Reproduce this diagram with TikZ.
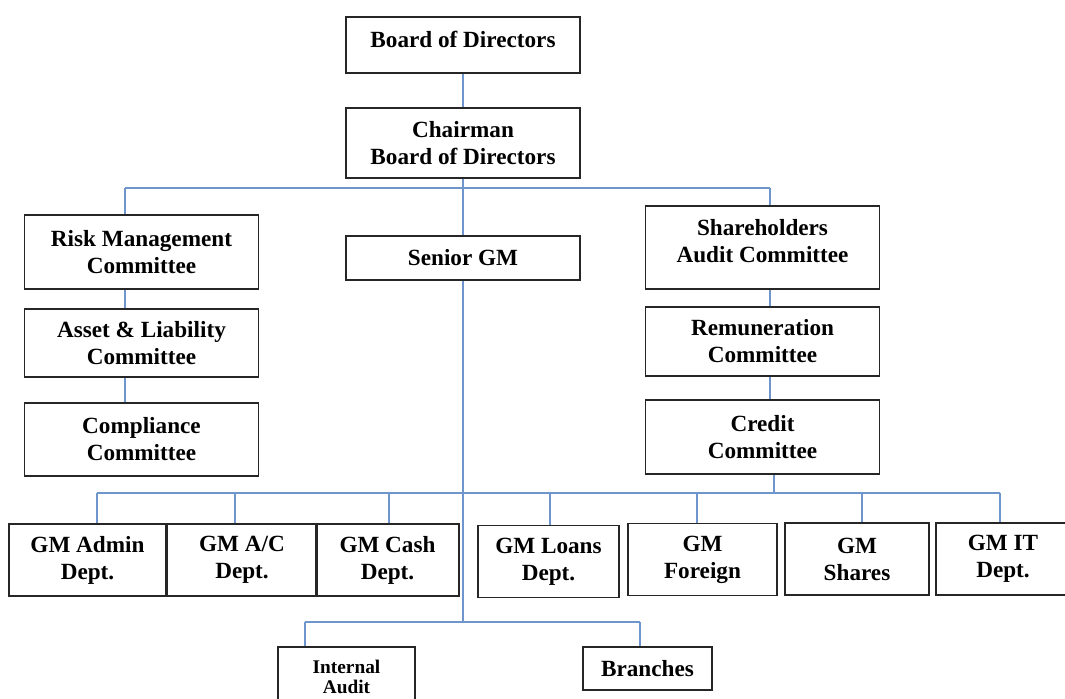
\documentclass[tikz,border=0pt]{standalone}
\usepackage{fontspec}
\setmainfont{Liberation Serif}
\definecolor{linkblue}{RGB}{110,150,205}
\begin{document}
\begin{tikzpicture}
  [ x=0.02cm, y=-0.02cm
  , box/.style={draw=black!85, line width=1pt, shape=rectangle, align=center,
                inner sep=0pt, font=\bfseries\fontsize{13.2}{15.4}\selectfont}
  , wide/.style={box, minimum width=4.68cm}
  , gm/.style={box, minimum height=1.44cm}
  , link/.style={draw=linkblue, line width=1pt}
  ]
  \useasboundingbox (0,0) rectangle (1065,698);
  \clip (0,0) rectangle (1065,698);

  % top of the chart
  \node[wide, minimum height=1.12cm, text depth=0.23cm] (board) at (463,45) {Board of Directors};
  \node[wide, minimum height=1.40cm] (chair)  at (463,143)   {Chairman\\Board of Directors};
  \node[wide, minimum height=0.88cm] (senior) at (463,258)   {Senior GM};

  % committees
  \node[wide, minimum height=1.48cm] (risk)   at (141.5,252) {Risk Management\\Committee};
  \node[wide, minimum height=1.36cm] (asset)  at (141.5,343) {Asset \& Liability\\Committee};
  \node[wide, minimum height=1.46cm] (compl)  at (141.5,439.5) {Compliance\\Committee};
  \node[wide, minimum height=1.66cm, text depth=0.28cm] (share) at (762.5,247.5) {Shareholders\\Audit Committee};
  \node[wide, minimum height=1.38cm] (remun)  at (762.5,341.5) {Remuneration\\Committee};
  \node[wide, minimum height=1.48cm] (credit) at (762.5,437) {Credit\\Committee};

  % general managers
  \node[gm, minimum width=3.14cm] (admin)   at (87.5,560)  {GM Admin\\Dept.};
  \node[gm, minimum width=3.00cm] (acc)     at (242,560)   {GM A/C\\Dept.};
  \node[gm, minimum width=2.86cm] (cash)    at (387.5,560) {GM Cash\\Dept.};
  \node[gm, minimum width=2.82cm] (loans)   at (548.5,561.5) {GM Loans\\Dept.};
  \node[gm, minimum width=2.98cm] (foreign) at (702.5,559.5) {GM\\Foreign};
  \node[gm, minimum width=2.88cm] (shares)  at (857,559)   {GM\\Shares};
  \node[gm, minimum width=2.68cm] (it)      at (1003,559)  {GM IT\\Dept.};

  % bottom
  \node[box, minimum width=2.74cm, minimum height=1.2cm,
        font=\bfseries\fontsize{11}{11.4}\selectfont] (audit) at (346.5,677) {Internal\\Audit};
  \node[box, minimum width=2.58cm, minimum height=0.86cm] (branch) at (647.5,668.5) {Branches};

  \draw[link] (board) -- (chair);
  \draw[link] (chair) -- (senior);

  \coordinate (topL) at (125,188);
  \coordinate (topR) at (770,188);
  \draw[link] (topL) -- (topR);
  \draw[link] (topL) -- (topL |- risk.north);
  \draw[link] (topR) -- (topR |- share.north);

  \draw[link] (risk.south -| topL)  -- (asset.north -| topL);
  \draw[link] (asset.south -| topL) -- (compl.north -| topL);
  \draw[link] (share.south -| topR) -- (remun.north -| topR);
  \draw[link] (remun.south -| topR) -- (credit.north -| topR);

  \coordinate (midR) at (774,493);
  \draw[link] (credit.south -| midR) -- (midR);
  \draw[link] (97,493) coordinate (busL) -- (1000,493) coordinate (busR);
  \foreach \n/\x in {admin/97, acc/235, cash/389, loans/550, foreign/697, shares/862, it/1000}
  {
    \coordinate (c) at (\x,493);
    \draw[link] (c) -- (c |- \n.north);
  }

  \coordinate (botL) at (305,622);
  \coordinate (botR) at (640,622);
  \draw[link] (senior.south) -- (senior.south |- botL);
  \draw[link] (botL) -- (botR);
  \draw[link] (botL) -- (botL |- audit.north);
  \draw[link] (botR) -- (botR |- branch.north);

\end{tikzpicture}
\end{document}
